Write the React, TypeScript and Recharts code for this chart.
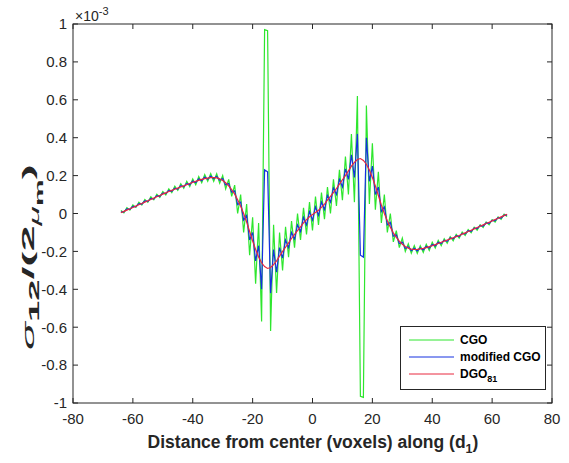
import { LineChart, Line, XAxis, YAxis, Legend } from "recharts";

// distance from the center, in voxels
const xVoxels = [
  -64, -63, -62, -61, -60, -59, -58, -57, -56, -55, -54, -53, -52, -51, -50, -49,
  -48, -47, -46, -45, -44, -43, -42, -41, -40, -39, -38, -37, -36, -35, -34, -33,
  -32, -31, -30, -29, -28, -27, -26, -25, -24, -23, -22, -21, -20, -19, -18, -17,
  -16, -15, -14, -13, -12, -11, -10, -9, -8, -7, -6, -5, -4, -3, -2, -1,
  0, 1, 2, 3, 4, 5, 6, 7, 8, 9, 10, 11, 12, 13, 14, 15,
  16, 17, 18, 19, 20, 21, 22, 23, 24, 25, 26, 27, 28, 29, 30, 31,
  32, 33, 34, 35, 36, 37, 38, 39, 40, 41, 42, 43, 44, 45, 46, 47,
  48, 49, 50, 51, 52, 53, 54, 55, 56, 57, 58, 59, 60, 61, 62, 63,
  64, 65,
];

// sigma_12 / (2 mu_m), in units of 1e-3
const cgo = [
  0.016, 0.004, 0.031, 0.018, 0.045, 0.032, 0.06, 0.045, 0.074, 0.059, 0.088, 0.072, 0.102, 0.085, 0.116, 0.098,
  0.13, 0.11, 0.144, 0.122, 0.157, 0.133, 0.17, 0.142, 0.182, 0.152, 0.195, 0.162, 0.205, 0.17, 0.21, 0.17,
  0.21, 0.16, 0.2, 0.13, 0.18, 0.09, 0.15, 0.0, 0.1, -0.1, 0.05, -0.22, -0.02, -0.37, -0.05, -0.57,
  0.97, 0.965, -0.62, -0.06, -0.42, -0.1, -0.3, -0.07, -0.23, -0.04, -0.18, 0.0, -0.14, 0.03, -0.11, 0.06,
  -0.09, 0.09, -0.06, 0.11, -0.03, 0.14, 0.0, 0.18, 0.04, 0.23, 0.07, 0.3, 0.1, 0.42, 0.06, 0.62,
  -0.965, -0.97, 0.57, 0.05, 0.37, 0.02, 0.22, -0.05, 0.1, -0.1, 0.0, -0.15, -0.09, -0.18, -0.13, -0.2,
  -0.16, -0.21, -0.17, -0.21, -0.17, -0.205, -0.162, -0.195, -0.152, -0.182, -0.142, -0.17, -0.133, -0.157, -0.122, -0.144,
  -0.11, -0.13, -0.098, -0.116, -0.085, -0.102, -0.072, -0.088, -0.059, -0.074, -0.045, -0.06, -0.032, -0.045, -0.018, -0.031,
  -0.004, -0.016,
];

const modifiedCgo = [
  0.009, 0.008, 0.024, 0.022, 0.038, 0.036, 0.052, 0.05, 0.066, 0.064, 0.08, 0.077, 0.094, 0.091, 0.108, 0.105,
  0.122, 0.117, 0.134, 0.129, 0.147, 0.141, 0.159, 0.152, 0.171, 0.163, 0.183, 0.173, 0.192, 0.181, 0.197, 0.183,
  0.196, 0.175, 0.184, 0.151, 0.158, 0.113, 0.12, 0.047, 0.06, -0.035, -0.01, -0.14, -0.1, -0.25, -0.17, -0.4,
  0.23, 0.22, -0.42, -0.19, -0.31, -0.18, -0.235, -0.14, -0.18, -0.1, -0.135, -0.06, -0.095, -0.02, -0.06, 0.01,
  -0.035, 0.035, -0.01, 0.06, 0.02, 0.095, 0.06, 0.135, 0.1, 0.18, 0.14, 0.235, 0.18, 0.31, 0.19, 0.42,
  -0.22, -0.23, 0.4, 0.17, 0.25, 0.1, 0.14, 0.01, 0.035, -0.06, -0.047, -0.12, -0.113, -0.158, -0.151, -0.184,
  -0.175, -0.196, -0.183, -0.197, -0.181, -0.192, -0.173, -0.183, -0.163, -0.171, -0.152, -0.159, -0.141, -0.147, -0.129, -0.134,
  -0.117, -0.122, -0.105, -0.108, -0.091, -0.094, -0.077, -0.08, -0.064, -0.066, -0.05, -0.052, -0.036, -0.038, -0.022, -0.024,
  -0.008, -0.009,
];

const dgo81 = [
  0.004, 0.011, 0.018, 0.025, 0.032, 0.039, 0.046, 0.053, 0.06, 0.067, 0.074, 0.081, 0.088, 0.095, 0.102, 0.109,
  0.116, 0.122, 0.128, 0.134, 0.14, 0.146, 0.152, 0.158, 0.164, 0.17, 0.175, 0.18, 0.184, 0.187, 0.189, 0.19,
  0.188, 0.183, 0.174, 0.162, 0.146, 0.126, 0.102, 0.072, 0.038, 0.0, -0.045, -0.095, -0.145, -0.19, -0.23, -0.26,
  -0.28, -0.29, -0.285, -0.27, -0.25, -0.225, -0.2, -0.178, -0.155, -0.132, -0.11, -0.09, -0.07, -0.05, -0.032, -0.017,
  -0.005, 0.005, 0.017, 0.032, 0.05, 0.07, 0.09, 0.11, 0.132, 0.155, 0.178, 0.2, 0.225, 0.25, 0.27, 0.285,
  0.29, 0.28, 0.26, 0.23, 0.19, 0.145, 0.095, 0.045, 0.0, -0.038, -0.072, -0.102, -0.126, -0.146, -0.162, -0.174,
  -0.183, -0.188, -0.19, -0.189, -0.187, -0.184, -0.18, -0.175, -0.17, -0.164, -0.158, -0.152, -0.146, -0.14, -0.134, -0.128,
  -0.122, -0.116, -0.109, -0.102, -0.095, -0.088, -0.081, -0.074, -0.067, -0.06, -0.053, -0.046, -0.039, -0.032, -0.025, -0.018,
  -0.011, -0.004,
];

const xTicks = [-80, -60, -40, -20, 0, 20, 40, 60, 80];
const yTicks = [-1, -0.8, -0.6, -0.4, -0.2, 0, 0.2, 0.4, 0.6, 0.8, 1];
const legendOrder = ["CGO", "modified CGO", "DGO_81"];

const rows = xVoxels.map((x, i) => ({
  x,
  cgo: cgo[i],
  modified: modifiedCgo[i],
  dgo: dgo81[i],
}));

const FONT = '"Liberation Sans", Arial, Helvetica, sans-serif';
const AXIS = "#262626";
const TICK_LEN = 5;
const X_GAP = 10;
const Y_GAP = 6;
const PLOT_TOP = 24;
const PLOT_RIGHT = 552;
const PLOT_W = 479;

// tick marks point inward, on all four sides of the box
const BottomTick = ({ x, y, payload }: any) => (
  <g>
    <rect x={x - 0.5} y={y - X_GAP - TICK_LEN} width={1} height={TICK_LEN} fill={AXIS} />
    <rect x={x - 0.5} y={PLOT_TOP} width={1} height={TICK_LEN} fill={AXIS} />
    <text x={x} y={y} dy="0.71em" textAnchor="middle" fill={AXIS} fontSize={15} fontFamily={FONT}>
      {payload.value}
    </text>
  </g>
);

const LeftTick = ({ x, y, payload }: any) => (
  <g>
    <rect x={x + Y_GAP} y={y - 0.5} width={TICK_LEN} height={1} fill={AXIS} />
    <rect x={PLOT_RIGHT - TICK_LEN} y={y - 0.5} width={TICK_LEN} height={1} fill={AXIS} />
    <text x={x} y={y} dy="0.355em" textAnchor="end" fill={AXIS} fontSize={15} fontFamily={FONT}>
      {payload.value}
    </text>
  </g>
);

const YTitle = ({ viewBox }: any) => (
  <g>
    <rect
      x={viewBox.x + viewBox.width}
      y={viewBox.y}
      width={PLOT_W}
      height={viewBox.height}
      fill="none"
      stroke={AXIS}
      strokeWidth={1}
    />
    <text x={75} y={21} fill={AXIS} fontSize={14} fontFamily={FONT}>
      ×10<tspan fontSize={11} dy={-6}>-3</tspan>
    </text>
    <text
      transform="translate(34,350) rotate(-90)"
      fill={AXIS}
      fontSize={17}
      fontWeight="bold"
      fontFamily={FONT}
      textLength={186}
      lengthAdjust="spacingAndGlyphs"
    >
      <tspan fontStyle="italic" fontWeight="normal">σ</tspan>
      <tspan fontSize={14} dy={5}>12</tspan>
      <tspan dy={-5}>/(2</tspan>
      <tspan fontSize={13} dy={5} fontStyle="italic" fontWeight="normal">μ</tspan>
      <tspan fontSize={11} dy={4}>m</tspan>
      <tspan dy={-9}>)</tspan>
    </text>
  </g>
);

const XTitle = () => (
  <text x={313} y={448} textAnchor="middle" fill={AXIS} fontSize={17.5} fontWeight="bold" fontFamily={FONT}>
    Distance from center (voxels) along (d<tspan fontSize={12.5} dy={5}>1</tspan>
    <tspan dy={-5}>)</tspan>
  </text>
);

const LegendBox = ({ payload }: any) => {
  const items = [...(payload || [])].sort(
    (a: any, b: any) => legendOrder.indexOf(a.value) - legendOrder.indexOf(b.value)
  );
  return (
    <div
      style={{
        position: "relative",
        width: 146,
        height: 64,
        boxSizing: "border-box",
        border: `1px solid ${AXIS}`,
        background: "#fff",
        fontFamily: FONT,
        fontWeight: "bold",
        fontSize: 12,
        color: "#000",
      }}
    >
      {items.map((entry: any, i: number) => {
        const [main, sub] = String(entry.value).split("_");
        const top = 13 + i * 17;
        return (
          <div key={main} style={{ position: "absolute", left: 0, top: top - 8, height: 16, width: "100%" }}>
            <svg width={60} height={16} style={{ position: "absolute", left: 0, top: 0 }}>
              <line x1={8} x2={53} y1={8} y2={8} stroke={entry.color} strokeWidth={1} />
            </svg>
            <span style={{ position: "absolute", left: 59, top: 1, whiteSpace: "nowrap", lineHeight: "14px" }}>
              {main}
              {sub && <sub style={{ fontSize: 9, verticalAlign: "-4px" }}>{sub}</sub>}
            </span>
          </div>
        );
      })}
    </div>
  );
};

export default function App() {
  return (
    <div style={{ width: 569, height: 463, background: "#fff" }}>
      <style>{"body{margin:0}"}</style>
      <LineChart width={569} height={463} data={rows} margin={{ top: PLOT_TOP, right: 17, bottom: 0, left: 0 }}>
        <XAxis
          dataKey="x"
          type="number"
          domain={[-80, 80]}
          ticks={xTicks}
          interval={0}
          height={60}
          tickSize={0}
          tickMargin={X_GAP}
          tickLine={false}
          axisLine={false}
          tick={<BottomTick />}
          label={XTitle}
        />
        <YAxis
          type="number"
          domain={[-1, 1]}
          ticks={yTicks}
          interval={0}
          width={73}
          tickSize={0}
          tickMargin={Y_GAP}
          tickLine={false}
          axisLine={false}
          tick={<LeftTick />}
          label={YTitle}
        />
        <Legend
          layout="vertical"
          align="center"
          verticalAlign="middle"
          content={<LegendBox />}
          wrapperStyle={{ position: "absolute", left: 400, top: 326, width: 146, height: 64 }}
        />
        <Line type="linear" dataKey="cgo" name="CGO" stroke="#2ee62e" strokeWidth={1.2} dot={false} isAnimationActive={false} />
        <Line type="linear" dataKey="modified" name="modified CGO" stroke="#1530e0" strokeWidth={1.2} dot={false} isAnimationActive={false} />
        <Line type="linear" dataKey="dgo" name="DGO_81" stroke="#e8283e" strokeWidth={1.2} dot={false} isAnimationActive={false} />
      </LineChart>
    </div>
  );
}
